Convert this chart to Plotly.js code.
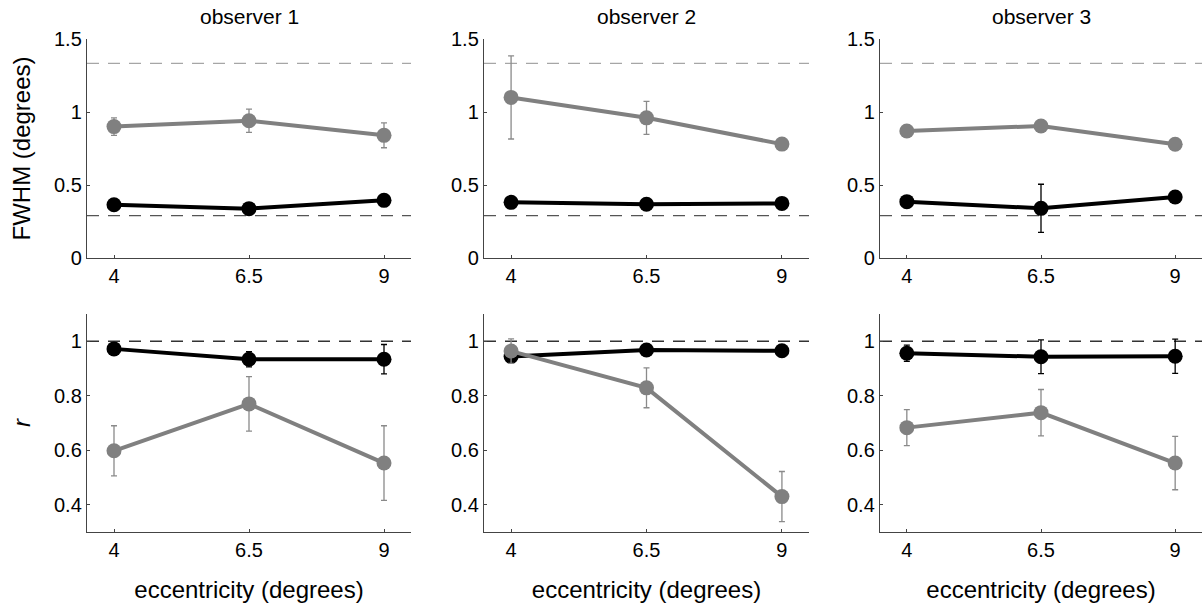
<!DOCTYPE html>
<html>
<head>
<meta charset="utf-8">
<script src="https://cdn.plot.ly/plotly-3.0.1.min.js"></script>
<style>html,body{margin:0;padding:0;background:#fff}#chart{width:1202px;height:604px}</style>
</head>
<body>
<div id="chart"></div>
<script>
// ---- data ----
const eccentricity = [4, 6.5, 9];
const xTickVals = [4, 6.5, 9];
const xTickText = ['4', '6.5', '9'];
const fwhmTickVals = [0, 0.5, 1, 1.5];
const fwhmTickText = ['0', '0.5', '1', '1.5'];
const rTickVals = [0.4, 0.6, 0.8, 1];
const rTickText = ['0.4', '0.6', '0.8', '1'];
const observers = ['observer 1', 'observer 2', 'observer 3'];

// FWHM (degrees), top row
const fwhmGray1 = [0.90, 0.94, 0.84];
const fwhmGrayErr1 = [0.06, 0.08, 0.085];
const fwhmBlack1 = [0.365, 0.338, 0.395];
const fwhmBlackErr1 = [0.01, 0.01, 0.01];
const fwhmGray2 = [1.10, 0.96, 0.78];
const fwhmGrayErr2 = [0.285, 0.113, 0.02];
const fwhmBlack2 = [0.381, 0.368, 0.374];
const fwhmBlackErr2 = [0.01, 0.01, 0.01];
const fwhmGray3 = [0.87, 0.904, 0.779];
const fwhmGrayErr3 = [0.02, 0.04, 0.02];
const fwhmBlack3 = [0.386, 0.34, 0.418];
const fwhmBlackErr3 = [0.01, 0.165, 0.01];
const fwhmRefHigh = 1.333;
const fwhmRefLow = 0.29;

// r, bottom row
const rBlack1 = [0.972, 0.934, 0.934];
const rBlackErr1 = [0.01, 0.028, 0.054];
const rGray1 = [0.598, 0.770, 0.553];
const rGrayErr1 = [0.092, 0.10, 0.137];
const rBlack2 = [0.944, 0.968, 0.965];
const rBlackErr2 = [0.02, 0.01, 0.01];
const rGray2 = [0.964, 0.829, 0.43];
const rGrayErr2 = [0.045, 0.073, 0.092];
const rBlack3 = [0.956, 0.943, 0.945];
const rBlackErr3 = [0.03, 0.062, 0.063];
const rGray3 = [0.683, 0.738, 0.553];
const rGrayErr3 = [0.066, 0.085, 0.098];
const rRef = 1;

// ---- styling ----
const FONT = '"Liberation Sans", Arial, Helvetica, sans-serif';
const GRAY = '#808080';
const BLACK = '#000000';
const AXC = '#444444';
const W = 1202, H = 604;

function series(x, y, err, color, xa, ya, errColor) {
  return {
    type: 'scatter', mode: 'lines+markers', x: x, y: y,
    xaxis: xa, yaxis: ya, showlegend: false, hoverinfo: 'skip',
    line: {color: color, width: 4},
    marker: {color: color, size: 15},
    error_y: {type: 'data', array: err, visible: true, color: errColor, thickness: 1.3, width: 3}
  };
}

const topGray = [fwhmGray1, fwhmGray2, fwhmGray3];
const topGrayErr = [fwhmGrayErr1, fwhmGrayErr2, fwhmGrayErr3];
const topBlack = [fwhmBlack1, fwhmBlack2, fwhmBlack3];
const topBlackErr = [fwhmBlackErr1, fwhmBlackErr2, fwhmBlackErr3];
const botGray = [rGray1, rGray2, rGray3];
const botGrayErr = [rGrayErr1, rGrayErr2, rGrayErr3];
const botBlack = [rBlack1, rBlack2, rBlack3];
const botBlackErr = [rBlackErr1, rBlackErr2, rBlackErr3];

const xDomPx = [[87, 411], [484, 809], [880, 1202]];
const topDomPx = [39, 258];
const botDomPx = [314, 532];

const traces = [];
const layout = {
  width: W, height: H,
  margin: {l: 0, r: 0, t: 0, b: 0},
  paper_bgcolor: '#fff', plot_bgcolor: 'rgba(0,0,0,0)',
  font: {family: FONT, color: '#000', size: 20},
  showlegend: false,
  shapes: [], annotations: []
};

function xAxisDef(i, anchor, showTitle) {
  const d = xDomPx[i];
  const ax = {
    domain: [d[0] / W, d[1] / W], anchor: anchor,
    range: [3.5, 9.5], tickvals: xTickVals, ticktext: xTickText,
    showline: true, linecolor: AXC, linewidth: 1.2, mirror: false,
    ticks: 'inside', ticklen: 3, tickcolor: AXC, tickwidth: 1,
    showgrid: false, zeroline: false, fixedrange: true,
    tickfont: {size: 20, family: FONT, color: '#000'}
  };
  if (showTitle) {
    ax.title = {text: 'eccentricity (degrees)', font: {size: 24, family: FONT, color: '#000'}, standoff: 21};
  }
  return ax;
}
function yAxisDef(dom, anchor, range, tv, tt, title) {
  const ax = {
    domain: [(H - dom[1]) / H, (H - dom[0]) / H], anchor: anchor,
    range: range, tickvals: tv, ticktext: tt,
    showline: true, linecolor: AXC, linewidth: 1.2, mirror: false,
    ticks: 'inside', ticklen: 3, tickcolor: AXC, tickwidth: 1,
    showgrid: false, zeroline: false, fixedrange: true,
    tickfont: {size: 20, family: FONT, color: '#000'}
  };
  if (title) ax.title = {text: title, font: {size: 24, family: FONT, color: '#000'}, standoff: 16};
  return ax;
}

for (let i = 0; i < 3; i++) {
  const nTop = i + 1, nBot = i + 4;
  const xt = 'x' + nTop, yt = 'y' + nTop, xb = 'x' + nBot, yb = 'y' + nBot;
  // top row
  traces.push(series(eccentricity, topBlack[i], topBlackErr[i], BLACK, xt, yt, BLACK));
  traces.push(series(eccentricity, topGray[i], topGrayErr[i], GRAY, xt, yt, '#8a8a8a'));
  // bottom row
  traces.push(series(eccentricity, botBlack[i], botBlackErr[i], BLACK, xb, yb, BLACK));
  traces.push(series(eccentricity, botGray[i], botGrayErr[i], GRAY, xb, yb, '#8a8a8a'));

  layout['xaxis' + nTop] = xAxisDef(i, yt, false);
  layout['xaxis' + nBot] = xAxisDef(i, yb, true);
  layout['yaxis' + nTop] = yAxisDef(topDomPx, xt, [0, 1.5], fwhmTickVals, fwhmTickText, i === 0 ? 'FWHM (degrees)' : null);
  layout['yaxis' + nBot] = yAxisDef(botDomPx, xb, [0.3, 1.1], rTickVals, rTickText, i === 0 ? '<i>r</i>' : null);

  const dash = '12px,9px';
  layout.shapes.push({type: 'line', layer: 'below', xref: xt + ' domain', yref: yt, x0: 0, x1: 1, y0: fwhmRefHigh, y1: fwhmRefHigh, line: {color: '#a6a6a6', width: 1.3, dash: dash}});
  layout.shapes.push({type: 'line', layer: 'below', xref: xt + ' domain', yref: yt, x0: 0, x1: 1, y0: fwhmRefLow, y1: fwhmRefLow, line: {color: '#555555', width: 1.3, dash: dash}});
  layout.shapes.push({type: 'line', layer: 'below', xref: xb + ' domain', yref: yb, x0: 0, x1: 1, y0: rRef, y1: rRef, line: {color: '#333333', width: 1.3, dash: dash}});

  layout.annotations.push({
    text: observers[i], showarrow: false,
    xref: xt + ' domain', x: 0.5, xanchor: 'center',
    yref: 'paper', y: (H - 17) / H, yanchor: 'middle',
    font: {size: 21, family: FONT, color: '#000'}
  });
}

Plotly.newPlot('chart', traces, layout, {displayModeBar: false, staticPlot: true});
</script>
</body>
</html>
